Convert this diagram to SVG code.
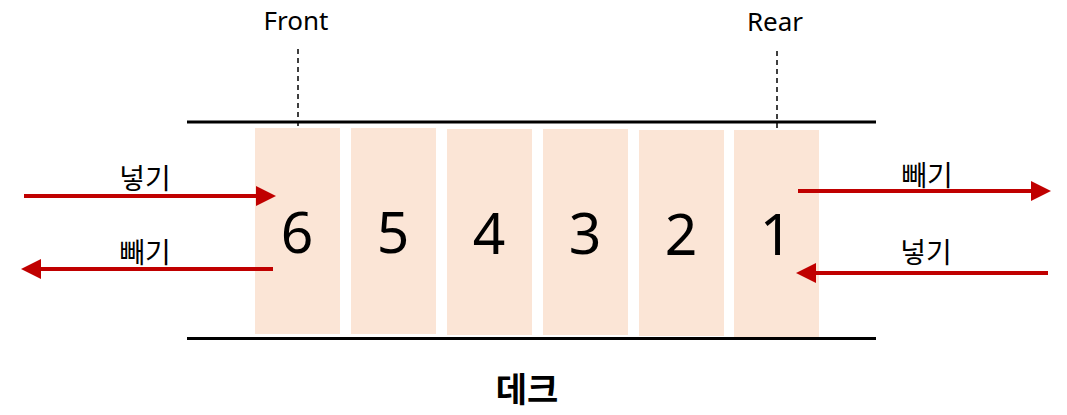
<svg xmlns="http://www.w3.org/2000/svg" width="1067" height="415" viewBox="0 0 1067 415">
<style>
.box{fill:#FBE5D6}
.num{font-family:"Noto Sans","Noto Sans CJK KR",sans-serif;font-size:57px;fill:#000;text-anchor:middle}
.lbl{font-family:"Noto Sans","Noto Sans CJK KR",sans-serif;font-size:26px;fill:#000;text-anchor:middle}
.ko{font-family:"Noto Sans CJK KR",sans-serif;font-size:28px;fill:#000;text-anchor:middle}
.ttl{font-family:"Noto Sans CJK KR",sans-serif;font-size:34px;font-weight:bold;fill:#000;text-anchor:middle}
.rail{stroke:#000;stroke-width:3}
.dash{stroke:#000;stroke-width:1.5;stroke-dasharray:5,4}
.arr{stroke:#C00000;stroke-width:4;fill:none}
</style>
<defs>
<marker id="ah" markerWidth="5" markerHeight="5" refX="1" refY="2.5" orient="auto" markerUnits="strokeWidth" viewBox="0 0 5 5">
<path d="M0,0 L5,2.5 L0,5 Z" fill="#C00000"/>
</marker>
</defs>
<g id="rails">
<line class="rail" x1="187" y1="122" x2="876" y2="122"/>
<line class="rail" x1="187" y1="338.5" x2="876" y2="338.5"/>
</g>
<g id="n6"><rect class="box" x="255" y="128" width="85" height="206"/><text class="num" x="297" y="253">6</text></g>
<g id="n5"><rect class="box" x="351" y="128" width="85" height="206"/><text class="num" x="393" y="253">5</text></g>
<g id="n4"><rect class="box" x="447" y="129" width="85" height="206"/><text class="num" x="489" y="254">4</text></g>
<g id="n3"><rect class="box" x="543" y="129" width="85" height="206"/><text class="num" x="585" y="254">3</text></g>
<g id="n2"><rect class="box" x="639" y="130" width="85" height="206"/><text class="num" x="681" y="255">2</text></g>
<g id="n1"><rect class="box" x="734" y="130" width="85" height="207"/><text class="num" x="776" y="255">1</text></g>
<g id="front"><text class="lbl" x="296" y="30">Front</text></g>
<g id="rear"><text class="lbl" x="775" y="31">Rear</text></g>
<g id="title"><text class="ttl" x="527" y="402">데크</text></g>
<g id="labels">
<text class="ko" x="145" y="189">넣기</text>
<text class="ko" x="145" y="263">빼기</text>
<text class="ko" x="927" y="186">빼기</text>
<text class="ko" x="926" y="263">넣기</text>
</g>
<g id="connectors">
<line class="dash" x1="298" y1="49" x2="298" y2="128"/>
<line class="dash" x1="777" y1="51" x2="777" y2="130"/>
<line class="arr" x1="24" y1="196" x2="260" y2="196" marker-end="url(#ah)"/>
<line class="arr" x1="273" y1="269" x2="37" y2="269" marker-end="url(#ah)"/>
<line class="arr" x1="798" y1="191" x2="1035" y2="191" marker-end="url(#ah)"/>
<line class="arr" x1="1048" y1="273" x2="812" y2="273" marker-end="url(#ah)"/>
</g>
</svg>
